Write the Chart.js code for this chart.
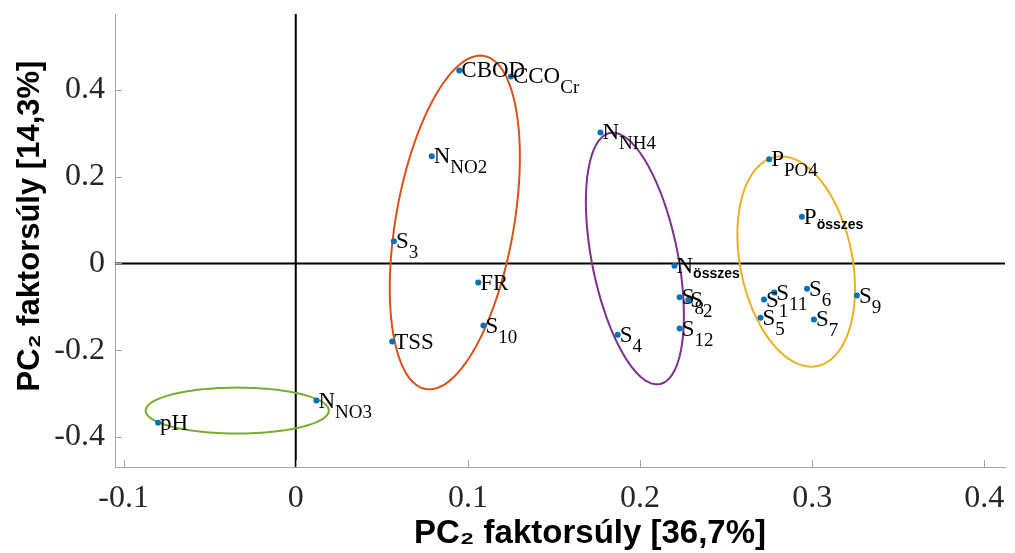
<!DOCTYPE html>
<html>
<head>
<meta charset="utf-8">
<script src="https://cdn.jsdelivr.net/npm/chart.js@4.4.0/dist/chart.umd.min.js"></script>
<style>
  html, body { margin: 0; padding: 0; background: #fff; }
</style>
</head>
<body>
<canvas id="pcaCanvas" width="1015" height="553"></canvas>
<script>
// loadings
const labelMain = ['CBOD', 'CCO', 'N', 'N', 'P', 'P', 'S', 'FR', 'S', 'TSS', 'pH', 'N', 'N', 'S', 'S', 'S', 'S', 'S', 'S', 'S', 'S', 'S', 'S'];
const labelSub  = ['', 'Cr', 'NO2', 'NH4', 'PO4', 'összes', '3', '', '10', '', '', 'NO3', 'összes', '8', '2', '12', '4', '1', '11', '5', '6', '7', '9'];
const pc1 = [0.095, 0.125, 0.079, 0.177, 0.275, 0.294, 0.057, 0.106, 0.109, 0.056, -0.080, 0.012, 0.220, 0.223, 0.228, 0.223, 0.187, 0.272, 0.278, 0.270, 0.297, 0.301, 0.326];
const pc2 = [0.445, 0.431, 0.247, 0.302, 0.240, 0.108, 0.051, -0.044, -0.143, -0.180, -0.367, -0.316, -0.005, -0.078, -0.084, -0.150, -0.164, -0.083, -0.067, -0.125, -0.058, -0.129, -0.074];

const xTickValues = [-0.1, 0, 0.1, 0.2, 0.3, 0.4];
const yTickValues = [-0.4, -0.2, 0, 0.2, 0.4];

// group ellipses: centre and two half-axis vectors (data units)
const ellipseCx = [0.0924, 0.197, 0.2907, -0.034];
const ellipseCy = [0.0945, 0.0115, 0.0046, -0.339];
const ellipseAx = [0.0169, -0.0145, -0.0122, 0.0532];
const ellipseAy = [0.3839, 0.2894, 0.2410, 0];
const ellipseBx = [0.0338, 0.0245, 0.0319, 0];
const ellipseBy = [-0.0233, 0.0194, 0.0254, -0.053];
const ellipseColors = ['#D95319', '#7E2F8E', '#EDB120', '#77AC30'];

const serif = '"Liberation Serif", "Times New Roman", serif';
const sans = '"Liberation Sans", Arial, sans-serif';
const axisGray = '#a6a6a6';

const points = pc1.map((x, i) => ({ x: x, y: pc2[i] }));

// zero lines + ellipses behind the dots
const backgroundPlugin = {
    id: 'background',
    beforeDatasetsDraw(chart) {
        const ctx = chart.ctx;
        const xs = chart.scales.x, ys = chart.scales.y;
        const area = chart.chartArea;
        ctx.save();
        ctx.strokeStyle = '#000';
        ctx.lineWidth = 2;
        ctx.beginPath();
        const x0 = xs.getPixelForValue(0);
        const y0 = ys.getPixelForValue(0);
        ctx.moveTo(x0, area.top); ctx.lineTo(x0, area.bottom);
        ctx.moveTo(area.left, y0); ctx.lineTo(area.right, y0);
        ctx.stroke();

        ctx.lineWidth = 2;
        for (let e = 0; e < ellipseCx.length; e++) {
            ctx.strokeStyle = ellipseColors[e];
            ctx.beginPath();
            for (let k = 0; k <= 120; k++) {
                const t = k / 120 * Math.PI * 2;
                const dx = ellipseCx[e] + ellipseAx[e] * Math.cos(t) + ellipseBx[e] * Math.sin(t);
                const dy = ellipseCy[e] + ellipseAy[e] * Math.cos(t) + ellipseBy[e] * Math.sin(t);
                const px = xs.getPixelForValue(dx), py = ys.getPixelForValue(dy);
                if (k === 0) ctx.moveTo(px, py); else ctx.lineTo(px, py);
            }
            ctx.closePath();
            ctx.stroke();
        }
        ctx.restore();
    }
};

// labels, inward ticks and axis titles
const labelPlugin = {
    id: 'labels',
    afterDraw(chart) {
        const ctx = chart.ctx;
        const xs = chart.scales.x, ys = chart.scales.y;
        const area = chart.chartArea;
        ctx.save();

        // inward ticks
        ctx.strokeStyle = axisGray;
        ctx.lineWidth = 1;
        ctx.beginPath();
        xTickValues.forEach(v => {
            const px = Math.round(xs.getPixelForValue(v)) + 0.5;
            ctx.moveTo(px, area.bottom); ctx.lineTo(px, area.bottom - 7);
        });
        yTickValues.forEach(v => {
            const py = Math.round(ys.getPixelForValue(v)) + 0.5;
            ctx.moveTo(area.left, py); ctx.lineTo(area.left + 7, py);
        });
        ctx.stroke();

        // point labels
        ctx.fillStyle = '#000';
        ctx.textAlign = 'left';
        ctx.textBaseline = 'alphabetic';
        for (let i = 0; i < points.length; i++) {
            const px = xs.getPixelForValue(pc1[i]) + 2;
            const py = ys.getPixelForValue(pc2[i]) + 7;
            ctx.font = '23px ' + serif;
            ctx.fillText(labelMain[i], px, py);
            const w = ctx.measureText(labelMain[i]).width;
            const sub = labelSub[i];
            if (sub === 'összes') {
                ctx.font = 'bold 14px ' + sans;
                ctx.fillText(sub, px + w, py + 5);
            } else if (sub) {
                ctx.font = '19px ' + serif;
                ctx.fillText(sub, px + w, py + 10);
            }
        }

        // axis titles
        ctx.fillStyle = '#000';
        ctx.textAlign = 'center';
        ctx.textBaseline = 'middle';
        ctx.font = 'bold 33px ' + sans;
        ctx.fillText('PC₂ faktorsúly [36,7%]', 590, 534);
        ctx.translate(30, 226);
        ctx.rotate(-Math.PI / 2);
        ctx.font = 'bold 31px ' + sans;
        ctx.fillText('PC₂ faktorsúly [14,3%]', 0, 0);
        ctx.restore();
    }
};

const tickLabel = v => String(Math.round(v * 10) / 10);

new Chart(document.getElementById('pcaCanvas').getContext('2d'), {
    type: 'scatter',
    data: {
        datasets: [{
            data: points,
            backgroundColor: '#0072BD',
            borderWidth: 0,
            pointRadius: 3,
            pointHoverRadius: 3
        }]
    },
    options: {
        responsive: false,
        animation: false,
        layout: { padding: { top: 14, right: 10, left: 0, bottom: 0 } },
        plugins: { legend: { display: false }, tooltip: { enabled: false } },
        scales: {
            x: {
                type: 'linear',
                min: -0.105,
                max: 0.412,
                grid: { display: false, drawTicks: false },
                border: { display: true, color: axisGray, width: 1 },
                afterBuildTicks: s => { s.ticks = xTickValues.map(v => ({ value: v })); },
                afterFit: s => { s.height = 86; s.paddingLeft = 0; s.paddingRight = 0; },
                ticks: {
                    font: { family: serif, size: 32 },
                    color: '#262626',
                    padding: 12,
                    maxRotation: 0,
                    callback: tickLabel
                }
            },
            y: {
                type: 'linear',
                min: -0.469,
                max: 0.575,
                grid: { display: false, drawTicks: false },
                border: { display: true, color: axisGray, width: 1 },
                afterBuildTicks: s => { s.ticks = yTickValues.map(v => ({ value: v })); },
                afterFit: s => { s.width = 115; s.paddingTop = 0; s.paddingBottom = 0; },
                ticks: {
                    font: { family: serif, size: 32 },
                    color: '#262626',
                    padding: 10,
                    callback: tickLabel
                }
            }
        }
    },
    plugins: [backgroundPlugin, labelPlugin]
});
</script>
</body>
</html>
